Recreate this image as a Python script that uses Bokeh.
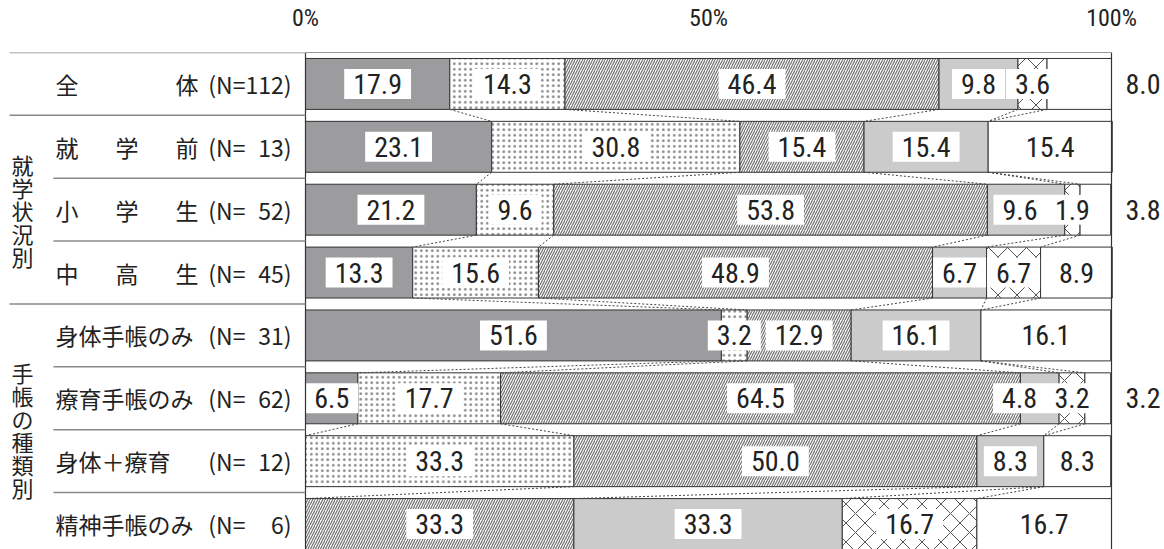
from bokeh.plotting import figure
from bokeh.models import Range1d, FixedTicker, ColumnDataSource
from bokeh.core.properties import value
from bokeh.embed import file_html
from bokeh.resources import INLINE

# ---------------- data ----------------
categories = ["全体", "就学前", "小学生", "中高生", "身体手帳のみ", "療育手帳のみ", "身体＋療育", "精神手帳のみ"]
n_labels = ["(N=112)", "(N= 13)", "(N= 52)", "(N= 45)", "(N= 31)", "(N= 62)", "(N= 12)", "(N=  6)"]
group_names = ["就学状況別", "手帳の種類別"]
group_rows = [(1, 3), (4, 7)]
s1 = [17.9, 23.1, 21.2, 13.3, 51.6, 6.5, 0.0, 0.0]      # dark gray
s2 = [14.3, 30.8, 9.6, 15.6, 3.2, 17.7, 33.3, 0.0]      # dotted
s3 = [46.4, 15.4, 53.8, 48.9, 12.9, 64.5, 50.0, 33.3]   # diagonal
s4 = [9.8, 15.4, 9.6, 6.7, 16.1, 4.8, 8.3, 33.3]        # light gray
s5 = [3.6, 0.0, 1.9, 6.7, 0.0, 3.2, 0.0, 16.7]          # cross hatch
s6 = [8.0, 15.4, 3.8, 8.9, 16.1, 3.2, 8.3, 16.7]        # white
tick_values = [0, 50, 100]
tick_labels = ["0%", "50%", "100%"]

series = [s1, s2, s3, s4, s5, s6]
styles = [
    dict(fill_color="#9c9c9e"),
    dict(fill_color="white", hatch_pattern="dot", hatch_color="#888888", hatch_scale=5.5, hatch_weight=0.8),
    dict(fill_color="white", hatch_pattern="right_diagonal_line", hatch_color="#777777", hatch_scale=5, hatch_weight=1.25),
    dict(fill_color="#cbcbcb"),
    dict(fill_color="white", hatch_pattern="diagonal_cross", hatch_color="#555555", hatch_scale=19, hatch_weight=1.0),
    dict(fill_color="white"),
]

NUM_FONT = "Roboto Condensed, DejaVu Sans Condensed, Liberation Sans Narrow, Arial Narrow, Liberation Sans"
JP_FONT = "Noto Sans CJK JP"

# ---------------- geometry ----------------
W, H = 1164, 549
X0PX, PXU = 305.0, 8.06          # px of 0%, px per percent
TOPPX, PITCH = 51.0, 63.0
BAR_H = 0.81


def px2x(px):
    return (px - X0PX) / PXU


nrows = len(categories)
rows = list(range(nrows))
p = figure(width=W, height=H, output_backend="svg", toolbar_location=None,
           x_range=Range1d(px2x(0), px2x(W)),
           y_range=Range1d(-0.5 + (H - TOPPX) / PITCH, -0.5),
           x_axis_location="above", y_axis_location=None,
           min_border_top=int(TOPPX), min_border_left=0, min_border_right=0, min_border_bottom=0)
p.outline_line_color = None
p.grid.visible = False
p.background_fill_color = "white"

ax = p.xaxis[0]
ax.ticker = FixedTicker(ticks=tick_values)
ax.major_label_overrides = {v: t for v, t in zip(tick_values, tick_labels)}
ax.axis_line_color = None
ax.major_tick_line_color = None
ax.minor_tick_line_color = None
ax.major_label_standoff = 15
ax.major_label_text_font = NUM_FONT
ax.major_label_text_font_size = "24px"
ax.major_label_text_font_style = "normal"
ax.major_label_text_color = "#222222"

# ---------------- bars ----------------
cum_prev = [0.0] * nrows
bounds = []
for vals, st in zip(series, styles):
    left = cum_prev[:]
    right = [a + b for a, b in zip(cum_prev, vals)]
    idx = [i for i in rows if vals[i] > 0]
    src = ColumnDataSource(dict(y=[rows[i] for i in idx], left=[left[i] for i in idx],
                                right=[right[i] for i in idx]))
    p.hbar(y="y", left="left", right="right", height=BAR_H, source=src,
           line_color="#333333", line_width=1, **st)
    bounds.append(right)
    cum_prev = right

# connector dotted lines between consecutive bars
xs0, ys0, xs1, ys1 = [], [], [], []
for i in range(nrows - 1):
    for k in range(5):
        xs0.append(bounds[k][i]); ys0.append(i + BAR_H / 2)
        xs1.append(bounds[k][i + 1]); ys1.append(i + 1 - BAR_H / 2)
p.segment(x0=xs0, y0=ys0, x1=xs1, y1=ys1, line_color="#444444", line_width=1, line_dash="2 2")

# ---------------- value labels ----------------
MIN_GAP = 6.5
lx, ly, lt, la = [], [], [], []
for i in rows:
    items = []
    start = 0.0
    for k, vals in enumerate(series):
        v = vals[i]
        if v > 0:
            items.append([k, start + v / 2, v])
        start += v
    outside = None
    if 0 < s5[i] < 5 and s6[i] > 0:
        outside = items.pop()  # white segment label goes outside
    for j in range(len(items) - 2, -1, -1):
        if items[j][1] > items[j + 1][1] - MIN_GAP:
            items[j][1] = items[j + 1][1] - MIN_GAP
    for k, c, v in items:
        lx.append(c); ly.append(i); lt.append(f"{v:.1f}"); la.append("center")
    if outside is not None:
        lx.append(px2x(1116)); ly.append(i); lt.append(f"{outside[2]:.1f}"); la.append("left")

p.text(x=lx, y=ly, text=lt, text_align=la, text_baseline="middle",
       text_font=value(NUM_FONT), text_font_size="28px", text_color="#222222",
       background_fill_color="white", padding=dict(left=9, right=9, top=5, bottom=5))

# ---------------- frame lines ----------------
top_y, bot_y = -0.5, nrows - 0.5
p.segment(x0=[0, 100, 0], y0=[top_y, top_y, top_y], x1=[0, 100, 100], y1=[bot_y, bot_y, top_y],
          line_color="#333333", line_width=1.2)

# label-area separators
sx0, sy = [], []
group_starts = {0} | {g[0] for g in group_rows}
for b in range(nrows):
    sy.append(b - 0.5)
    sx0.append(px2x(9) if b in group_starts or b == 0 else px2x(53))
sy.append(nrows - 0.5); sx0.append(px2x(9))
p.segment(x0=sx0, y0=sy, x1=[0] * len(sy), y1=sy, line_color="#888888", line_width=1.5)

# ---------------- row labels ----------------
CW = 24.0
nx, ny, nt = [], [], []
jx, jy, jt = [], [], []
for i, name in enumerate(categories):
    if len(name) <= 3:
        step = 5 * CW / (len(name) - 1)
        for j, ch in enumerate(name):
            jx.append(px2x(55 + j * step)); jy.append(i); jt.append(ch)
    else:
        jx.append(px2x(55)); jy.append(i); jt.append(name)
    nx.append(px2x(291)); ny.append(i); nt.append(n_labels[i].replace(" ", "\u2007"))

p.text(x=jx, y=jy, text=jt, text_align="left", text_baseline="middle",
       text_font=value(JP_FONT), text_font_size="23px", text_color="#222222")
p.text(x=nx, y=ny, text=nt, text_align="right", text_baseline="middle",
       text_font=value(JP_FONT), text_font_size="23px", text_color="#222222")

# vertical group labels
gx, gy, gt = [], [], []
for name, (r0, r1) in zip(group_names, group_rows):
    mid = (r0 + r1) / 2
    n = len(name)
    for j, ch in enumerate(name):
        gx.append(px2x(22)); gy.append(mid + (j - (n - 1) / 2) * 23.0 / PITCH); gt.append(ch)
p.text(x=gx, y=gy, text=gt, text_align="center", text_baseline="middle",
       text_font=value(JP_FONT), text_font_size="22px", text_color="#222222")

open("out.html", "w").write(file_html(p, INLINE))
